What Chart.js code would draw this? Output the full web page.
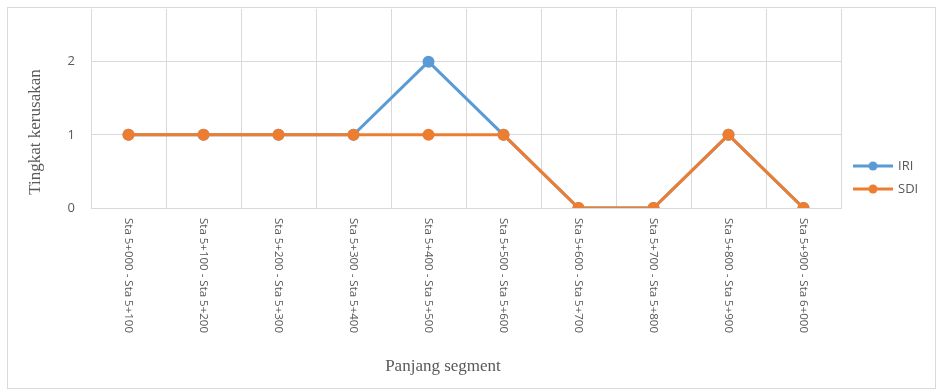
<!DOCTYPE html>
<html>
<head>
<meta charset="utf-8">
<script src="https://cdn.jsdelivr.net/npm/chart.js@4"></script>
<style>
  html, body { margin: 0; padding: 0; background: #ffffff; }
  #wrap {
    position: absolute;
    left: 7px;
    top: 7px;
    width: 927px;
    height: 380px;
    border: 1px solid #d9d9d9;
  }
</style>
</head>
<body>
<div id="wrap"><canvas id="grafik" width="927" height="380"></canvas></div>
<script>
const segmen = [
  "Sta 5+000 - Sta 5+100",
  "Sta 5+100 - Sta 5+200",
  "Sta 5+200 - Sta 5+300",
  "Sta 5+300 - Sta 5+400",
  "Sta 5+400 - Sta 5+500",
  "Sta 5+500 - Sta 5+600",
  "Sta 5+600 - Sta 5+700",
  "Sta 5+700 - Sta 5+800",
  "Sta 5+800 - Sta 5+900",
  "Sta 5+900 - Sta 6+000"
];
const nilaiIRI = [1, 1, 1, 1, 2, 1, 0, 0, 1, 0];
const nilaiSDI = [1, 1, 1, 1, 1, 1, 0, 0, 1, 0];
const tickY = [0, 1, 2];
const judulX = "Panjang segment";
const judulY = "Tingkat kerusakan";

const abuTeks = "#595959";
const abuGaris = "#d9d9d9";
const hurufJudul = "17px 'Liberation Serif'";

// label sumbu x ditulis dari atas ke bawah (diputar searah jarum jam)
const labelVertikal = {
  id: "labelVertikal",
  afterDraw(chart) {
    const ctx = chart.ctx;
    const sx = chart.scales.x;
    ctx.save();
    ctx.font = "11.5px 'Open Sans'";
    ctx.fillStyle = abuTeks;
    ctx.textAlign = "left";
    ctx.textBaseline = "middle";
    chart.data.labels.forEach((lbl, i) => {
      const x = sx.getPixelForTick(i);
      ctx.save();
      ctx.translate(x, sx.top + 10);
      ctx.rotate(Math.PI / 2);
      ctx.fillText(lbl, 0, 0);
      ctx.restore();
    });
    ctx.restore();
  }
};

// judul sumbu, posisinya agak bergeser seperti di gambar asli
const judulSumbu = {
  id: "judulSumbu",
  afterDraw(chart) {
    const ctx = chart.ctx;
    const area = chart.chartArea;
    ctx.save();
    ctx.font = hurufJudul;
    ctx.fillStyle = abuTeks;
    ctx.textAlign = "center";
    ctx.textBaseline = "middle";
    ctx.fillText(judulX, area.left + 352, area.bottom + 159);
    ctx.translate(28, area.top + 123);
    ctx.rotate(-Math.PI / 2);
    ctx.fillText(judulY, 0, 0);
    ctx.restore();
  }
};

// legenda garis + titik di sebelah kanan
const legendaKanan = {
  id: "legendaKanan",
  afterDraw(chart) {
    const ctx = chart.ctx;
    const x0 = chart.chartArea.right + 12;
    let y = 158;
    ctx.save();
    chart.data.datasets.forEach((ds) => {
      ctx.strokeStyle = ds.borderColor;
      ctx.fillStyle = ds.borderColor;
      ctx.lineWidth = 3;
      ctx.beginPath();
      ctx.moveTo(x0, y);
      ctx.lineTo(x0 + 40, y);
      ctx.stroke();
      ctx.beginPath();
      ctx.arc(x0 + 20, y, 4.5, 0, Math.PI * 2);
      ctx.fill();
      ctx.font = "13px 'Open Sans'";
      ctx.fillStyle = abuTeks;
      ctx.textAlign = "left";
      ctx.textBaseline = "middle";
      ctx.fillText(ds.label, x0 + 45, y);
      y += 23;
    });
    ctx.restore();
  }
};

const ctx = document.getElementById("grafik").getContext("2d");

new Chart(ctx, {
  type: "line",
  data: {
    labels: segmen,
    datasets: [
      {
        label: "IRI",
        data: nilaiIRI,
        borderColor: "#5b9bd5",
        backgroundColor: "#5b9bd5",
        borderWidth: 3,
        pointRadius: 4.5,
        pointHoverRadius: 4.5,
        tension: 0,
        order: 1
      },
      {
        label: "SDI",
        data: nilaiSDI,
        borderColor: "#ed7d31",
        backgroundColor: "#ed7d31",
        borderWidth: 3,
        pointRadius: 4.5,
        pointHoverRadius: 4.5,
        tension: 0,
        order: 0
      }
    ]
  },
  options: {
    responsive: false,
    animation: false,
    layout: { autoPadding: false, padding: { left: 0, right: 94, top: 1, bottom: 0 } },
    plugins: {
      legend: { display: false },
      tooltip: { enabled: false }
    },
    scales: {
      x: {
        offset: true,
        grid: { offset: true, color: abuGaris, drawTicks: false },
        border: { color: abuGaris },
        ticks: { display: false },
        afterFit(scale) {
          scale.height = 180;
          scale.paddingTop = 0;
          scale.paddingBottom = 0;
        }
      },
      y: {
        min: 0,
        max: 2.72,
        afterBuildTicks(axis) {
          axis.ticks = tickY.map((v) => ({ value: v }));
        },
        grid: { color: abuGaris, drawTicks: false },
        border: { display: false },
        ticks: {
          color: abuTeks,
          font: { family: "'Open Sans'", size: 13 },
          padding: 16
        },
        afterFit(scale) {
          scale.width = 83;
          scale.paddingTop = 0;
          scale.paddingBottom = 0;
        }
      }
    }
  },
  plugins: [labelVertikal, judulSumbu, legendaKanan]
});
</script>
</body>
</html>
